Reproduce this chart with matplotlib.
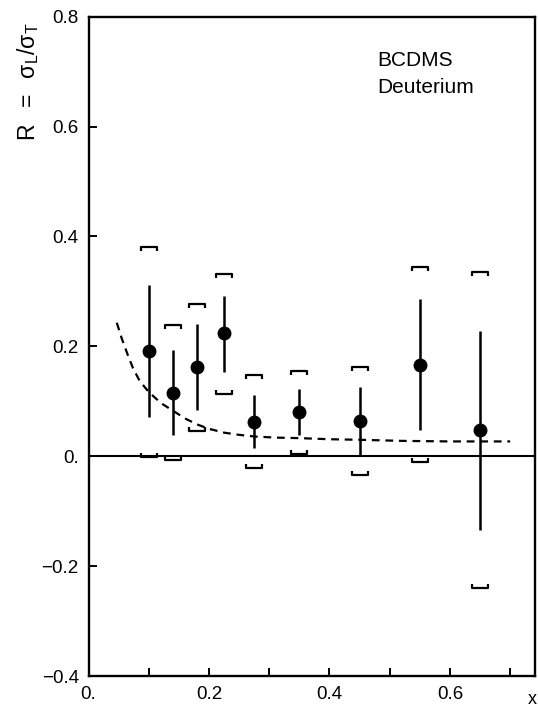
import matplotlib.pyplot as plt
from matplotlib.path import Path

plt.rcParams['font.family'] = ['Liberation Sans', 'DejaVu Sans']
plt.rcParams['mathtext.fontset'] = 'custom'
plt.rcParams['mathtext.rm'] = 'Liberation Sans'
plt.rcParams['mathtext.it'] = 'Liberation Sans'

# R measurements, deuterium
x = [0.10, 0.14, 0.18, 0.225, 0.275, 0.35, 0.45, 0.55, 0.65]
R = [0.192, 0.116, 0.162, 0.224, 0.062, 0.081, 0.064, 0.167, 0.047]
stat_lo = [0.072, 0.039, 0.084, 0.154, 0.015, 0.038, 0.002, 0.047, -0.135]
stat_hi = [0.312, 0.193, 0.240, 0.292, 0.111, 0.122, 0.126, 0.286, 0.228]
sys_lo = [-0.002, -0.007, 0.046, 0.113, -0.021, 0.004, -0.034, -0.010, -0.240]
sys_hi = [0.381, 0.239, 0.277, 0.332, 0.148, 0.155, 0.162, 0.345, 0.336]

# QCD expectation (dashed)
x_qcd = [0.047, 0.055, 0.065, 0.074, 0.085, 0.10, 0.12, 0.14, 0.16, 0.18,
         0.20, 0.225, 0.25, 0.275, 0.31, 0.35, 0.40, 0.45, 0.52, 0.60, 0.70]
R_qcd = [0.243, 0.215, 0.185, 0.160, 0.137, 0.117, 0.097, 0.083, 0.069, 0.058,
         0.050, 0.043, 0.039, 0.036, 0.034, 0.033, 0.031, 0.030, 0.028, 0.027,
         0.027]

fig = plt.figure(figsize=(5.38, 7.09), dpi=100)
ax = fig.add_axes([0.1645, 0.0465, 0.8308, 0.9299])

ax.axhline(0, color='black', lw=1.5, zorder=1)
ax.plot(x_qcd, R_qcd, color='black', ls=(0, (3.5, 2.6)), lw=1.6)

# statistical errors
lo = [r - l for r, l in zip(R, stat_lo)]
hi = [h - r for r, h in zip(R, stat_hi)]
ax.errorbar(x, R, yerr=[lo, hi], fmt='o', color='black', ms=9,
            elinewidth=1.8, capsize=0, zorder=3)

# systematic brackets
top_br = Path([(-1, -0.55), (-1, 0), (1, 0), (1, -0.55)],
              [Path.MOVETO, Path.LINETO, Path.LINETO, Path.LINETO])
bot_br = Path([(-1, 0.55), (-1, 0), (1, 0), (1, 0.55)],
              [Path.MOVETO, Path.LINETO, Path.LINETO, Path.LINETO])
ax.plot(x, sys_hi, ls='none', marker=top_br, ms=11, mew=1.6,
        mfc='none', mec='black')
ax.plot(x, sys_lo, ls='none', marker=bot_br, ms=11, mew=1.6,
        mfc='none', mec='black')

ax.set_xlim(0, 0.742)
ax.set_ylim(-0.4, 0.8)
ax.set_xticks([0.0, 0.1, 0.2, 0.3, 0.4, 0.5, 0.6, 0.7])
ax.set_xticklabels(['0.', '', '0.2', '', '0.4', '', '0.6', ''])
ax.set_yticks([-0.4, -0.2, 0.0, 0.2, 0.4, 0.6, 0.8])
ax.set_yticklabels(['\u22120.4', '\u22120.2', '0.', '0.2', '0.4', '0.6', '0.8'])
ax.tick_params(direction='in', length=6, width=1.4, labelsize=13.5, pad=7)
for s in ax.spines.values():
    s.set_linewidth(1.7)

ax.text(0.480, 0.710, 'BCDMS', fontsize=15)
ax.text(0.480, 0.661, 'Deuterium', fontsize=15)

fig.text(0.052, 0.884, r'R  $=$  $\sigma_L/\sigma_T$', rotation=90,
         fontsize=16.5, ha='center', va='center')
fig.text(0.998, 0.002, 'x', fontsize=13, ha='right', va='bottom')

fig.savefig('out.png', dpi=100)
